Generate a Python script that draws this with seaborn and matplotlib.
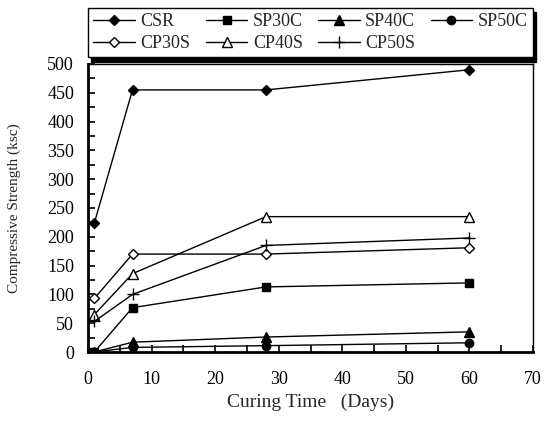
import matplotlib
matplotlib.use("Agg")
import matplotlib.pyplot as plt
import seaborn as sns
import pandas as pd
from matplotlib.ticker import MultipleLocator

sns.set_theme(style="white")
plt.rcParams['font.family'] = ['Liberation Serif', 'DejaVu Serif']

days = [1, 7, 28, 60]
series_names = ["CSR", "SP30C", "SP40C", "SP50C", "CP30S", "CP40S", "CP50S"]
CSR = [224, 455, 455, 490]
SP30C = [0, 77, 113, 120]
SP40C = [0, 17, 26, 35]
SP50C = [0, 8, 11, 16]
CP30S = [93, 170, 170, 181]
CP40S = [65, 136, 235, 235]
CP50S = [53, 100, 185, 198]
values = [CSR, SP30C, SP40C, SP50C, CP30S, CP40S, CP50S]

rows = []
for name, vals in zip(series_names, values):
    for d, v in zip(days, vals):
        rows.append({"Series": name, "Days": d, "Strength": v})
df = pd.DataFrame(rows)

markers = {"CSR": "D", "SP30C": "s", "SP40C": "^", "SP50C": "o",
           "CP30S": "D", "CP40S": "^", "CP50S": "+"}
filled = {"CSR": True, "SP30C": True, "SP40C": True, "SP50C": True,
          "CP30S": False, "CP40S": False, "CP50S": True}
sizes = {"CSR": 5.5, "SP30C": 6, "SP40C": 6.5, "SP50C": 6,
         "CP30S": 5.5, "CP40S": 7, "CP50S": 8}

fig = plt.figure(figsize=(5.44, 4.23), dpi=100)
ax = fig.add_axes([88/544, 1 - 352/423, (533-88)/544, (352-64)/423])

handles = {}
for name in series_names:
    sub = df[df["Series"] == name]
    sns.lineplot(data=sub, x="Days", y="Strength", ax=ax, color="black",
                 linewidth=1.0, marker=markers[name], markersize=sizes[name],
                 markerfacecolor="black" if filled[name] else "white",
                 markeredgecolor="black", markeredgewidth=1.0, label=name,
                 legend=False)
    handles[name] = ax.lines[-1]

ax.set_xlim(0, 70)
ax.set_ylim(0, 500)
ax.xaxis.set_major_locator(MultipleLocator(10))
ax.xaxis.set_minor_locator(MultipleLocator(5))
ax.yaxis.set_major_locator(MultipleLocator(50))
ax.yaxis.set_minor_locator(MultipleLocator(25))
ax.tick_params(which="both", direction="in", length=5, width=1.2,
               bottom=True, left=True, top=False, right=False,
               labelsize=13, colors="black", pad=14)
ax.tick_params(axis="y", pad=10)
for s in ["left", "bottom"]:
    ax.spines[s].set_linewidth(2.0)
    ax.spines[s].set_color("black")
for s in ["top", "right"]:
    ax.spines[s].set_linewidth(1.0)
    ax.spines[s].set_color("black")
ax.set_xlabel("Curing Time\u2002 (Days)", fontsize=14, labelpad=4)
ax.set_ylabel("Compressive Strength (ksc)", fontsize=11)
ax.yaxis.set_label_coords(-(88-21)/445, 0.5)

# row-wise order in a column-filled legend
order = ["CSR", "CP30S", "SP30C", "CP40S", "SP40C", "CP50S", "SP50C"]
leg = fig.legend(handles=[handles[n] for n in order], labels=order, ncol=4,
                 loc="upper left",
                 bbox_to_anchor=(88/544, 1 - 8/423, (533-88)/544, 0),
                 mode="expand", frameon=True, fancybox=False,
                 shadow={"color": "black", "alpha": 1.0, "ox": 2.5, "oy": -3},
                 fontsize=13, handlelength=2.3, handletextpad=0.3,
                 columnspacing=0.5, borderpad=0.3, labelspacing=0.25,
                 borderaxespad=0.0)
leg.get_frame().set_edgecolor("black")
leg.get_frame().set_linewidth(1.0)

fig.savefig("out.png", dpi=100)
